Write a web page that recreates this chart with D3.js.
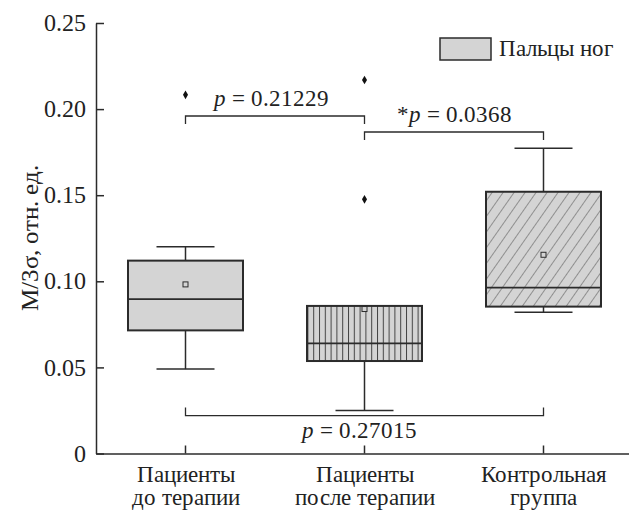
<!DOCTYPE html>
<html>
<head>
<meta charset="utf-8">
<script src="https://cdn.jsdelivr.net/npm/d3@7"></script>
<style>
  @font-face { font-family: "RefSerif"; src: local("Liberation Serif"), local("LiberationSerif"), local("LiberationSerif-Regular"); font-style: normal; }
  @font-face { font-family: "RefSerif"; src: local("Liberation Serif Italic"), local("LiberationSerif-Italic"); font-style: italic; }
  #chart text { font-family: "RefSerif", "Liberation Serif", serif; }
</style>
</head>
<body style="margin:0">
<svg id="chart" width="629" height="512"></svg>
<script>
// categories (two-line labels)
var categories = ["before", "after", "control"];
var categoryLines = [["Пациенты", "до терапии"], ["Пациенты", "после терапии"], ["Контрольная", "группа"]];

// box statistics
var whiskerLow  = [0.049, 0.025, 0.082];
var q1          = [0.0715, 0.0537, 0.0853];
var median      = [0.0897, 0.064, 0.0963];
var q3          = [0.112, 0.0857, 0.152];
var whiskerHigh = [0.120, 0.0857, 0.1772];
var means       = [0.0982, 0.0839, 0.1154];
var outliers    = [[0.2083], [0.2169, 0.1476], []];
var fills       = ["solid", "vstripes", "diag"];

var yTicks = [0, 0.05, 0.10, 0.15, 0.20, 0.25];

// significance brackets
var bracketFrom  = [0, 1, 0];
var bracketTo    = [1, 2, 2];
var bracketLevel = [0.196, 0.1867, 0.022];
var bracketDir   = [1, 1, -1];    // 1 = ticks down, -1 = ticks up
var bracketStar  = ["", "*", ""];
var bracketP     = ["0.21229", "0.0368", "0.27015"];
var legendLabel  = "Пальцы ног";

var dark = "#2b2b2b", gray = "#d4d4d4";
var FONT = "RefSerif, Liberation Serif, serif";

var svg = d3.select("#chart");

var defs = svg.append("defs");
var pv = defs.append("pattern").attr("id", "vstripes")
    .attr("patternUnits", "userSpaceOnUse").attr("width", 5.8).attr("height", 10);
pv.append("rect").attr("width", 5.8).attr("height", 10).attr("fill", gray);
pv.append("line").attr("x1", 0.5).attr("x2", 0.5).attr("y1", 0).attr("y2", 10)
    .attr("stroke", "#444").attr("stroke-width", 1);
var pd = defs.append("pattern").attr("id", "diag")
    .attr("patternUnits", "userSpaceOnUse").attr("width", 9).attr("height", 9)
    .attr("patternTransform", "rotate(35)");
pd.append("rect").attr("width", 9).attr("height", 9).attr("fill", gray);
pd.append("line").attr("x1", 0).attr("x2", 0).attr("y1", 0).attr("y2", 9)
    .attr("stroke", "#555").attr("stroke-width", 1.1);

var x = d3.scaleBand().domain(categories).range([96, 633]);
var y = d3.scaleLinear().domain([0, 0.25]).range([453.5, 23]);
var cx = function (i) { return x(categories[i]) + x.bandwidth() / 2; };

// Y axis
var yAxis = d3.axisLeft(y).tickValues(yTicks).tickSizeInner(-8).tickSizeOuter(0).tickPadding(10)
    .tickFormat(function (d) { return d === 0 ? "0" : d3.format(".2f")(d); });
var gy = svg.append("g").attr("transform", "translate(" + x.range()[0] + ",0)").call(yAxis)
    .attr("font-family", FONT);
gy.selectAll("text").attr("font-family", FONT).attr("font-size", 24).attr("fill", "#222");
gy.selectAll("line, path").attr("stroke", dark).attr("stroke-width", 1.5);

// X axis
var xAxis = d3.axisBottom(x).tickSizeInner(-8).tickSizeOuter(0).tickFormat("");
var gx = svg.append("g").attr("transform", "translate(0," + y(0) + ")").call(xAxis);
gx.selectAll("line, path").attr("stroke", dark).attr("stroke-width", 1.5);

categories.forEach(function (c, i) {
  categoryLines[i].forEach(function (s, k) {
    svg.append("text").attr("text-anchor", "middle")
        .attr("font-family", FONT).attr("font-size", 23).attr("fill", "#222")
        .attr("x", cx(i)).attr("y", 482 + k * 23).text(s);
  });
});

// Y title
svg.append("text")
    .attr("transform", "translate(38," + 238 + ") rotate(-90)")
    .attr("text-anchor", "middle").attr("font-family", FONT).attr("font-size", 25)
    .attr("fill", "#222")
    .text("M/3σ, отн. ед.");

// boxes
var boxHalf = 57.5, capHalf = 29;
categories.forEach(function (c, i) {
  var g = svg.append("g");
  var xc = cx(i);
  g.append("line").attr("x1", xc).attr("x2", xc).attr("y1", y(whiskerHigh[i])).attr("y2", y(q3[i]))
      .attr("stroke", dark).attr("stroke-width", 1.5);
  g.append("line").attr("x1", xc).attr("x2", xc).attr("y1", y(q1[i])).attr("y2", y(whiskerLow[i]))
      .attr("stroke", dark).attr("stroke-width", 1.5);
  [whiskerLow[i], whiskerHigh[i]].forEach(function (v) {
    g.append("line").attr("x1", xc - capHalf).attr("x2", xc + capHalf).attr("y1", y(v)).attr("y2", y(v))
        .attr("stroke", dark).attr("stroke-width", 1.5);
  });
  g.append("rect").attr("x", xc - boxHalf).attr("width", boxHalf * 2)
      .attr("y", y(q3[i])).attr("height", y(q1[i]) - y(q3[i]))
      .attr("fill", fills[i] === "solid" ? gray : "url(#" + fills[i] + ")")
      .attr("stroke", dark).attr("stroke-width", 2);
  g.append("line").attr("x1", xc - boxHalf).attr("x2", xc + boxHalf)
      .attr("y1", y(median[i])).attr("y2", y(median[i]))
      .attr("stroke", dark).attr("stroke-width", 1.8);
  g.append("rect").attr("x", xc - 2.5).attr("y", y(means[i]) - 2.5).attr("width", 5).attr("height", 5)
      .attr("fill", gray).attr("stroke", dark).attr("stroke-width", 1);
  outliers[i].forEach(function (v) {
    g.append("path").attr("d", d3.symbol(d3.symbolDiamond, 22)())
        .attr("transform", "translate(" + xc + "," + y(v) + ")").attr("fill", "#111");
  });
});

// brackets
var tickLen = 8;
bracketFrom.forEach(function (f, i) {
  var x1 = cx(f), x2 = cx(bracketTo[i]), yy = y(bracketLevel[i]);
  var d = bracketDir[i] * tickLen;
  svg.append("path")
      .attr("d", "M" + x1 + "," + (yy + d) + "V" + yy + "H" + x2 + "V" + (yy + d))
      .attr("fill", "none").attr("stroke", dark).attr("stroke-width", 1.3);
  var ly = bracketDir[i] > 0 ? yy - 10 : yy + 22;
  var t = svg.append("text")
      .attr("x", (x1 + x2) / 2 - (i === 2 ? 5 : 0) - (i === 0 ? 4 : 0)).attr("y", ly)
      .attr("text-anchor", "middle").attr("font-family", FONT).attr("font-size", 23)
      .attr("fill", "#222");
  t.append("tspan").text(bracketStar[i]);
  t.append("tspan").attr("font-style", "italic").text("p");
  t.append("tspan").text(" = " + bracketP[i]);
});

// legend
svg.append("rect").attr("x", 440).attr("y", 38).attr("width", 51).attr("height", 22)
    .attr("fill", gray).attr("stroke", dark).attr("stroke-width", 1.5);
svg.append("text").attr("x", 499).attr("y", 56)
    .attr("font-family", FONT).attr("font-size", 23).attr("fill", "#222")
    .text(legendLabel);
</script>
</body>
</html>
